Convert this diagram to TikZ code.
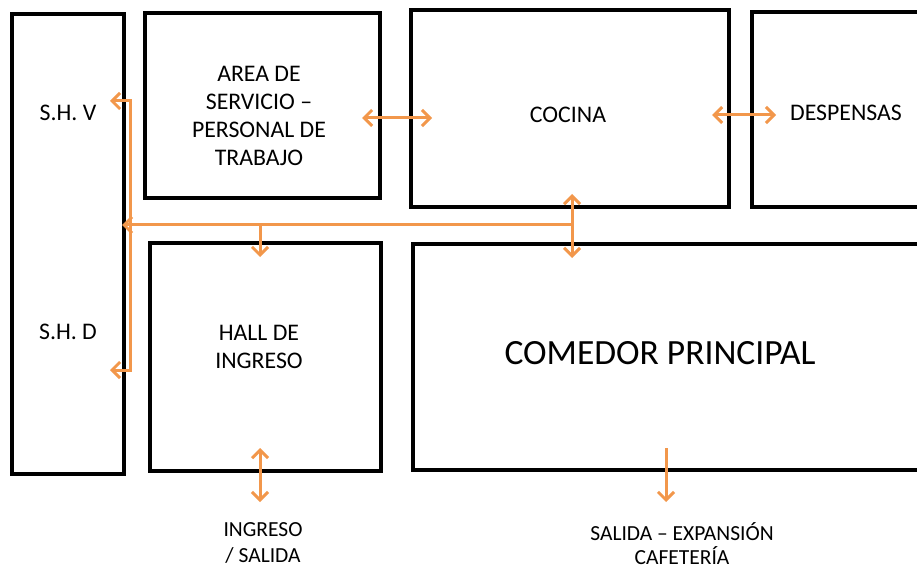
\documentclass[tikz,border=0pt]{standalone}
\usepackage{fontspec}
\setmainfont{Carlito}
\usetikzlibrary{arrows.meta}
\definecolor{arrorange}{RGB}{242,151,75}
\tikzset{
  room/.style={draw=black, line width=4.5pt, inner sep=0pt, align=center},
  wall/.style={draw=black, line width=4.5pt},
  lbl/.style={align=center, inner sep=0pt, font=\fontsize{23.8}{28}\selectfont},
  small/.style={align=center, inner sep=0pt, font=\fontsize{21.5}{26}\selectfont},
  flow/.style={draw=arrorange, line width=3pt, arrows={Straight Barb[length=8pt,width=16pt,line width=3pt]-Straight Barb[length=8pt,width=16pt,line width=3pt]}},
  flowto/.style={draw=arrorange, line width=3pt, arrows={-Straight Barb[length=8pt,width=16pt,line width=3pt]}}
}
\begin{document}
\begin{tikzpicture}[x=1pt,y=-1pt]
\useasboundingbox (0,0) rectangle (917,569);
% rooms
\node[room, minimum width=112pt, minimum height=460pt] (sh) at (68,244) {};
\node[room, minimum width=235pt, minimum height=185pt] (area) at (262.5,105.5) {};
\node[room, minimum width=318pt, minimum height=197pt] (cocina) at (570,108.5) {};
\node[room, minimum width=231pt, minimum height=228pt] (hall) at (265.5,357) {};
\draw[wall] (920,12) -- (752,12) -- (752,207) -- (920,207);
\draw[wall] (920,244) -- (413,244) -- (413,470) -- (920,470);
% labels
\node[lbl] (shv) at (68,113) {S.H. V};
\node[lbl] (shd) at (68,332) {S.H. D};
\node[lbl] (areat) at (259,116) {AREA DE\\SERVICIO –\\PERSONAL DE\\TRABAJO};
\node[lbl] (cocinat) at (568,115) {COCINA};
\node[lbl] (despt) at (846,113) {DESPENSAS};
\node[lbl] (hallt) at (259,346.5) {HALL DE\\INGRESO};
\node[align=center, inner sep=0pt, font=\fontsize{35.5}{40}\selectfont] (comt) at (660,353) {COMEDOR PRINCIPAL};
\node[small] (ingt) at (263,543) {INGRESO\\/ SALIDA};
\node[align=center, inner sep=0pt, font=\fontsize{21.5}{24}\selectfont] (salt) at (682,544) {SALIDA – EXPANSIÓN\\CAFETERÍA};
% connector points
\coordinate (a1) at (362,118); \coordinate (c1) at (432,118);
\coordinate (c2) at (712,115); \coordinate (d2) at (776,115);
\coordinate (v1) at (110,101); \coordinate (v2) at (130,101);
\coordinate (v3) at (130,370); \coordinate (v4) at (110,370);
\coordinate (h1) at (572,225); \coordinate (h2) at (122,225);
\coordinate (hd1) at (260,225); \coordinate (hd2) at (260,257);
\coordinate (cv1) at (572,194); \coordinate (cv2) at (572,258);
\coordinate (ib1) at (260,448); \coordinate (ib2) at (260,502);
\coordinate (sb1) at (666,448); \coordinate (sb2) at (666,502);
% flows
\draw[flow] (a1) -- (c1);
\draw[flow] (c2) -- (d2);
\draw[flow] (v1) -- (v2) -- (v3) -- (v4);
\draw[flowto] (h1) -- (h2);
\draw[flowto] (hd1) -- (hd2);
\draw[flow] (cv1) -- (cv2);
\draw[flow] (ib1) -- (ib2);
\draw[flowto] (sb1) -- (sb2);
\end{tikzpicture}
\end{document}
